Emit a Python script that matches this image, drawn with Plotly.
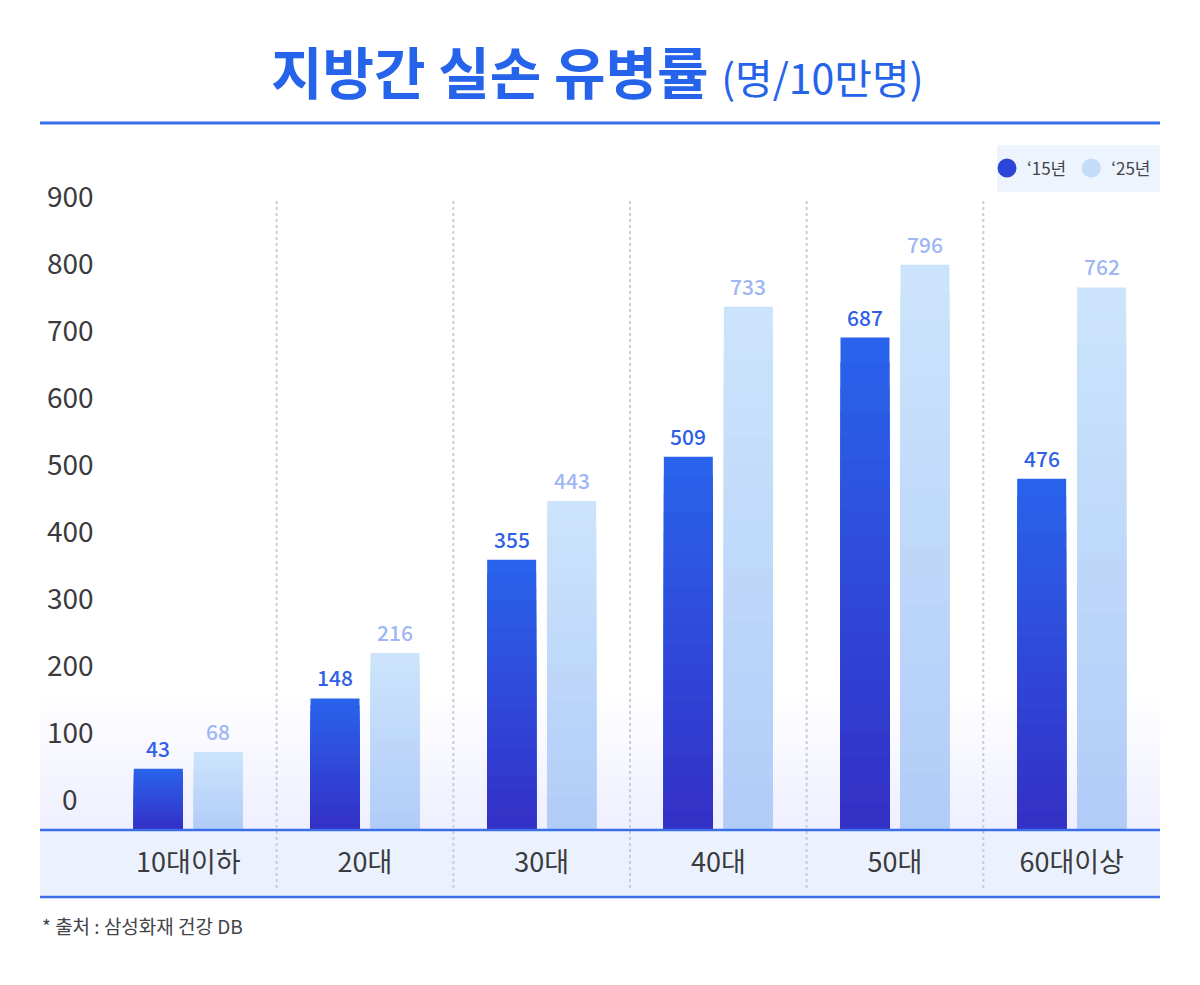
import plotly.graph_objects as go

categories = ["10대이하", "20대", "30대", "40대", "50대", "60대이상"]
values_15 = [43, 148, 355, 509, 687, 476]
values_25 = [68, 216, 443, 733, 796, 762]
series_names = ["‘15년", "‘25년"]
y_tick_values = [0, 100, 200, 300, 400, 500, 600, 700, 800, 900]
y_tick_labels = [str(v) for v in y_tick_values]

W, H = 1200, 985
FONT = "Noto Sans CJK KR"
BLUE = "#2563EB"

# plot box in pixels
x0_px, x1_px = 100, 1160
top_px, bot_px = 195, 830
y_min = -48.5  # axis value at the bar baseline (below the "0" label)

def hex2rgb(h):
    h = h.lstrip("#")
    return tuple(int(h[i:i + 2], 16) for i in (0, 2, 4))

def mix(c1, c2, t):
    a, b = hex2rgb(c1), hex2rgb(c2)
    return "rgb(%d,%d,%d)" % tuple(round(a[i] + (b[i] - a[i]) * t) for i in range(3))

N = 20
cat_w = (x1_px - x0_px) / len(categories)
bar_w = 49 / cat_w
off_15 = -54.5 / cat_w
off_25 = 5.5 / cat_w

fig = go.Figure()

def add_gradient_series(vals, top_c, bot_c, offset):
    for k in range(N):
        frac = (N - k) / N
        t = k / (N - 1)
        fig.add_trace(go.Bar(
            x=categories,
            y=[(v - y_min) * frac for v in vals],
            base=y_min,
            width=bar_w,
            offset=offset,
            marker=dict(color=mix(top_c, bot_c, t), line=dict(width=0)),
            showlegend=False,
            hoverinfo="skip",
        ))

add_gradient_series(values_15, "#2A63EB", "#3330C6", off_15)
add_gradient_series(values_25, "#CBE4FB", "#B2CCF8", off_25)

# legend entries (circles)
fig.add_trace(go.Scatter(x=[None], y=[None], mode="markers", name=series_names[0],
                         marker=dict(symbol="circle", size=16, color="#2E45DA",
                                     line=dict(width=3, color="#2E45DA"))))
fig.add_trace(go.Scatter(x=[None], y=[None], mode="markers", name=series_names[1],
                         marker=dict(symbol="circle", size=16, color="#C3DCFA",
                                     line=dict(width=3, color="#C3DCFA"))))

ydom = [(H - bot_px) / H, (H - top_px) / H]

shapes = []
# soft bottom gradient in plot area
steps = 16
for i in range(steps):
    y_a = bot_px - (i + 1) * 135 / steps
    shapes.append(dict(type="rect", xref="paper", yref="paper", layer="below",
                       x0=40 / W, x1=1160 / W,
                       y0=(H - bot_px) / H, y1=(H - y_a) / H,
                       fillcolor="rgba(226,236,252,0.045)", line=dict(width=0)))
# category band
shapes.append(dict(type="rect", xref="paper", yref="paper", layer="below",
                   x0=40 / W, x1=1160 / W, y0=(H - 897) / H, y1=(H - 830) / H,
                   fillcolor="#EBF2FD", line=dict(width=0)))
# legend box
shapes.append(dict(type="rect", xref="paper", yref="paper", layer="below",
                   x0=997 / W, x1=1160 / W, y0=(H - 192) / H, y1=(H - 145) / H,
                   fillcolor="#EDF4FE", line=dict(width=0)))
# dotted separators
for i in range(len(categories) - 1):
    shapes.append(dict(type="line", xref="x", yref="paper", layer="below",
                       x0=i + 0.5, x1=i + 0.5, y0=(H - 888) / H, y1=(H - 200) / H,
                       line=dict(color="#CACDD4", width=2, dash="dot")))
# blue rules
for ypx, wdt in [(123, 3), (830, 2.5), (897, 2.5)]:
    shapes.append(dict(type="line", xref="paper", yref="paper",
                       x0=40 / W, x1=1160 / W, y0=(H - ypx) / H, y1=(H - ypx) / H,
                       line=dict(color="#3B6FEA", width=wdt)))

annotations = []
for v, lab in zip(y_tick_values, y_tick_labels):
    annotations.append(dict(xref="paper", yref="y", x=70 / W, y=v, text=lab,
                            showarrow=False, xanchor="center", yanchor="middle",
                            font=dict(family=FONT, size=28, color="#3A3A3F")))
# value labels
for vals, shift, col in [(values_15, -30, "#2F5FE6"), (values_25, 30, "#9EB6F3")]:
    for c, v in zip(categories, vals):
        annotations.append(dict(xref="x", yref="y", x=c, y=v, text=str(v),
                                showarrow=False, xanchor="center", yanchor="bottom",
                                xshift=shift, yshift=4,
                                font=dict(family=FONT, size=21, color=col, weight=500)))
annotations.append(dict(
    xref="paper", yref="paper", x=597 / W, y=(H - 70) / H,
    text="<b>지방간 실손 유병률</b> <span style='font-size:41px;font-weight:400'>(명/10만명)</span>",
    showarrow=False, xanchor="center", yanchor="middle",
    font=dict(family=FONT, size=56, color=BLUE)))
annotations.append(dict(
    xref="paper", yref="paper", x=40 / W, y=(H - 925) / H,
    text="* 출처 : 삼성화재 건강 DB", showarrow=False, xanchor="left", yanchor="middle",
    font=dict(family=FONT, size=19, color="#444448")))

fig.update_layout(
    width=W, height=H,
    margin=dict(l=0, r=0, t=0, b=0),
    paper_bgcolor="white", plot_bgcolor="rgba(0,0,0,0)",
    barmode="overlay",
    font=dict(family=FONT),
    xaxis=dict(domain=[x0_px / W, x1_px / W], type="category",
               showgrid=False, zeroline=False, showline=False, ticks="",
               ticklabelstandoff=14,
               tickfont=dict(family=FONT, size=27, color="#3A3A3F"),
               range=[-0.5, len(categories) - 0.5]),
    yaxis=dict(domain=ydom, range=[y_min, 900], showgrid=False, zeroline=False,
               showticklabels=False, showline=False),
    legend=dict(orientation="h", x=1156 / W, xanchor="right", y=(H - 168.5) / H, yanchor="middle",
                bgcolor="rgba(0,0,0,0)", font=dict(family=FONT, size=17, color="#444448"),
                itemwidth=30, tracegroupgap=0, borderwidth=0),
    shapes=shapes,
    annotations=annotations,
)

fig.write_html("out.html", config={"displayModeBar": False},
               post_script="document.body.style.margin='0';document.body.style.padding='0';")
